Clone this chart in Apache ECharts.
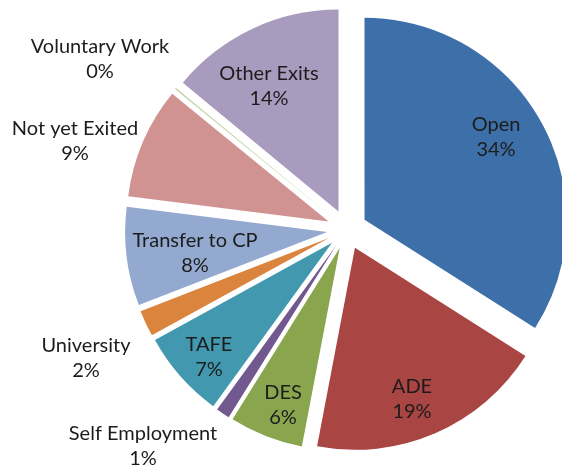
<!DOCTYPE html>
<html>
<head>
<meta charset="utf-8">
<script src="https://cdn.jsdelivr.net/npm/echarts@6/dist/echarts.min.js"></script>
<style>
html,body{margin:0;padding:0;background:#fff;}
#chart{width:562px;height:469px;}
</style>
</head>
<body>
<div id="chart"></div>
<script>
// Data (percent of exits)
var categories = ['Open', 'ADE', 'DES', 'Self Employment', 'TAFE', 'University', 'Transfer to CP', 'Not yet Exited', 'Voluntary Work', 'Other Exits'];
var values = [34.0, 19.0, 5.9, 1.1, 7.0, 2.1, 7.9, 8.9, 0.1, 14.0];

// Styles
var colors = ['#3D6FA8', '#A94543', '#89A54E', '#71588F', '#4198AF', '#DB843D', '#93A9CF', '#D19392', '#B9CD96', '#A99BBD'];
var labelPos = [[496, 137], [412, 399], [283, 405], [143, 446], [209, 357], [86, 358], [195, 253], [75, 141], [100, 59], [269, 86]];

var chart = echarts.init(document.getElementById('chart'), null, {renderer: 'canvas'});

var common = {
  type: 'pie',
  center: [347, 229.5],
  radius: [0, 202],
  startAngle: 90,
  clockwise: true,
  avoidLabelOverlap: false,
  percentPrecision: 0,
  minAngle: 0,
  emphasis: {disabled: true},
  labelLine: {show: false}
};

var sliceData = categories.map(function (c, i) {
  return {
    name: c,
    value: values[i],
    selected: true,
    itemStyle: {color: colors[i], borderWidth: 0},
    select: {itemStyle: {color: colors[i], borderWidth: 0}}
  };
});
var labelData = categories.map(function (c, i) {
  return {name: c, value: values[i]};
});

chart.setOption({
  animation: false,
  series: [
    Object.assign({}, common, {
      id: 'slices',
      selectedMode: 'multiple',
      selectedOffset: 20,
      label: {show: false},
      data: sliceData
    }),
    Object.assign({}, common, {
      id: 'labels',
      silent: true,
      z: 5,
      selectedMode: false,
      itemStyle: {color: 'rgba(0,0,0,0)', borderWidth: 0},
      label: {
        show: true,
        position: 'inside',
        formatter: '{b}\n{d}%',
        fontFamily: 'Lato',
        fontSize: 20,
        lineHeight: 25,
        color: '#1c1c1c',
        align: 'center'
      },
      labelLayout: function (params) {
        var p = labelPos[params.dataIndex];
        return {x: p[0], y: p[1], align: 'center', verticalAlign: 'middle'};
      },
      data: labelData
    })
  ]
});
</script>
</body>
</html>
